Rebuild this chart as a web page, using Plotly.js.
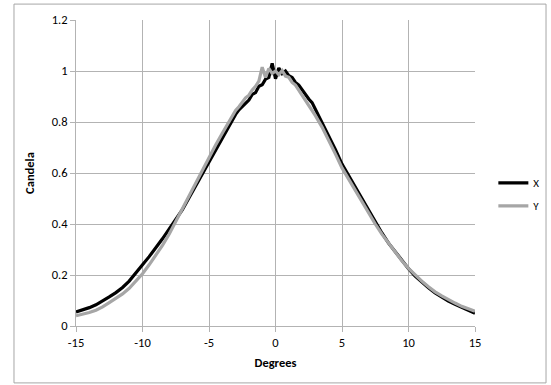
<!DOCTYPE html>
<html>
<head>
<meta charset="utf-8">
<script src="https://cdn.plot.ly/plotly-3.0.1.min.js"></script>
<style>html,body{margin:0;padding:0;background:#fff;}#chart{width:551px;height:385px;}</style>
</head>
<body>
<div id="chart"></div>
<script>
// Degrees (x values)
var degrees = [
  -15,-14.5,-14,-13.5,-13,-12.5,-12,-11.5,-11,-10.5,-10,-9.5,-9,-8.5,-8,-7.5,-7,-6.5,-6,-5.5,-5,-4.5,-4,-3.5,
  -3,-2.75,-2.5,-2.25,-2,-1.75,-1.5,-1.25,-1,-0.75,-0.5,-0.25,0,0.25,0.5,0.75,1,1.25,1.5,1.75,2,2.25,2.5,2.75,3,
  3.5,4,4.5,5,5.5,6,6.5,7,7.5,8,8.5,9,9.5,10,10.5,11,11.5,12,12.5,13,13.5,14,14.5,15
];
// Series X (black)
var seriesX = [
  0.055,0.063,0.072,0.083,0.097,0.114,0.131,0.151,0.176,0.206,0.240,0.272,0.306,0.342,0.380,0.416,0.456,0.503,0.550,0.598,0.645,0.690,0.740,0.788,
  0.830,0.848,0.860,0.876,0.886,0.908,0.915,0.940,0.946,0.968,0.975,1.030,0.970,1.012,0.990,1.000,0.982,0.975,0.955,0.945,0.925,0.910,0.890,0.876,0.850,
  0.800,0.750,0.692,0.635,0.590,0.545,0.495,0.450,0.405,0.365,0.325,0.290,0.255,0.225,0.196,0.172,0.150,0.130,0.113,0.098,0.085,0.072,0.062,0.050
];
// Series Y (grey)
var seriesY = [
  0.040,0.046,0.053,0.062,0.075,0.092,0.108,0.126,0.148,0.175,0.205,0.240,0.276,0.316,0.360,0.410,0.460,0.513,0.565,0.615,0.662,0.710,0.756,0.800,
  0.845,0.860,0.876,0.895,0.905,0.926,0.940,0.960,1.015,0.975,1.010,0.990,1.000,0.985,1.002,0.980,0.975,0.955,0.945,0.925,0.910,0.890,0.870,0.845,0.825,
  0.780,0.730,0.675,0.620,0.575,0.530,0.485,0.440,0.400,0.360,0.325,0.290,0.256,0.226,0.199,0.176,0.154,0.134,0.118,0.103,0.090,0.077,0.066,0.058
];
var xTicks = [-15,-10,-5,0,5,10,15];
var yTicks = [0,0.2,0.4,0.6,0.8,1,1.2];
var yTickText = ['0','0.2','0.4','0.6','0.8','1','1.2'];

var fontFam = 'Calibri, Carlito, Lato, "Open Sans", sans-serif';
var gridCol = '#b3b3b3';

var traces = [
  {x: degrees, y: seriesX, name: 'X', type: 'scatter', mode: 'lines',
   line: {color: '#000000', width: 3.2}, legendgroup: 'a'},
  {x: degrees, y: seriesY, name: 'Y', type: 'scatter', mode: 'lines',
   line: {color: '#a6a6a6', width: 3.2}, legendgroup: 'b'}
];

var layout = {
  width: 551, height: 385,
  margin: {l: 76, r: 76, t: 20, b: 59, pad: 0, autoexpand: false},
  paper_bgcolor: '#ffffff', plot_bgcolor: '#ffffff',
  font: {family: fontFam, size: 12, color: '#000000'},
  showlegend: true,
  legend: {x: 1.046, y: 0.43, xanchor: 'left', yanchor: 'middle',
           font: {family: fontFam, size: 11, color: '#000'},
           itemwidth: 30, tracegroupgap: 4, traceorder: 'grouped',
           bgcolor: 'rgba(0,0,0,0)'},
  xaxis: {range: [-15, 15], tickvals: xTicks, ticktext: xTicks.map(String),
          showgrid: true, gridcolor: gridCol, gridwidth: 1, automargin: false,
          zeroline: false, showline: true, linecolor: gridCol, linewidth: 1,
          ticks: 'outside', ticklen: 5, tickcolor: gridCol,
          tickfont: {family: fontFam, size: 12.5},
          title: {text: '<b>Degrees</b>', font: {family: fontFam, size: 12.5}, standoff: 9}},
  yaxis: {range: [0, 1.2], tickvals: yTicks, ticktext: yTickText,
          showgrid: true, gridcolor: gridCol, gridwidth: 1, automargin: false,
          zeroline: false, showline: true, linecolor: gridCol, linewidth: 1,
          ticks: 'outside', ticklen: 5, tickcolor: gridCol,
          tickfont: {family: fontFam, size: 12.5},
          title: {text: '<b>Candela</b>', font: {family: fontFam, size: 12.5}, standoff: 14}},
  shapes: [
    {type: 'rect', xref: 'paper', yref: 'paper',
     x0: -0.1554, x1: 1.178, y0: -0.186, y1: 1.052,
     line: {color: '#a6a6a6', width: 1}, fillcolor: 'rgba(0,0,0,0)'}
  ]
};

Plotly.newPlot('chart', traces, layout, {displayModeBar: false, staticPlot: true});
</script>
</body>
</html>
